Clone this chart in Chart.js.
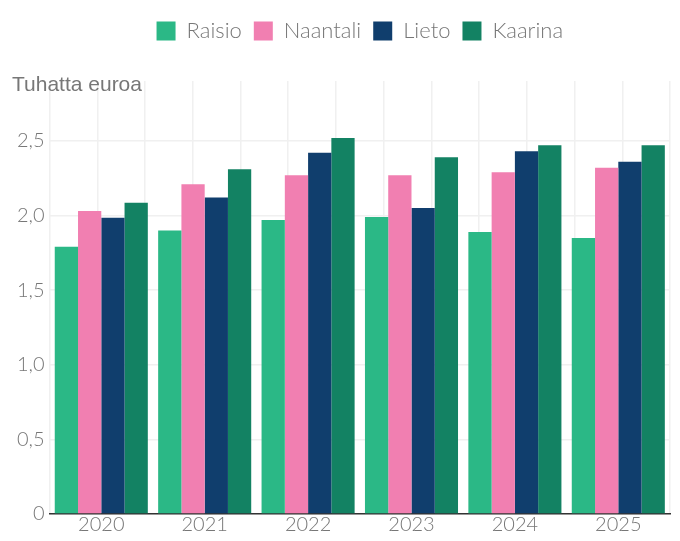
<!DOCTYPE html>
<html>
<head>
<meta charset="utf-8">
<script src="https://cdn.jsdelivr.net/npm/chart.js@4.4.0/dist/chart.umd.min.js"></script>
<style>
  html, body { margin: 0; padding: 0; background: #fff; }
  #wrap { width: 680px; height: 541px; }
</style>
</head>
<body>
<div id="wrap"><canvas id="chart"></canvas></div>
<script>
const years = ['2020', '2021', '2022', '2023', '2024', '2025'];
const raisio = [1.79, 1.90, 1.97, 1.99, 1.89, 1.85];
const naantali = [2.03, 2.21, 2.27, 2.27, 2.29, 2.32];
const lieto = [1.985, 2.12, 2.42, 2.05, 2.43, 2.36];
const kaarina = [2.085, 2.31, 2.52, 2.39, 2.47, 2.47];

const gray = '#777777';
const gridColor = '#f0f0f0';
const tickFont = { family: 'Lato', size: 20, weight: 300 };

function fmt(v) {
    return v === 0 ? '0' : v.toFixed(1).replace('.', ',');
}

const ctx = document.getElementById('chart').getContext('2d');
new Chart(ctx, {
    type: 'bar',
    data: {
        labels: years,
        datasets: [
            { label: 'Raisio', data: raisio, backgroundColor: '#2bb886' },
            { label: 'Naantali', data: naantali, backgroundColor: '#f17fb1' },
            { label: 'Lieto', data: lieto, backgroundColor: '#103e6d' },
            { label: 'Kaarina', data: kaarina, backgroundColor: '#138263' }
        ]
    },
    options: {
        responsive: true,
        maintainAspectRatio: false,
        animation: false,
        datasets: {
            bar: { categoryPercentage: 0.9, barPercentage: 1.0 }
        },
        layout: { padding: { left: 12, right: 10, top: 8, bottom: 5 } },
        plugins: {
            legend: {
                position: 'top',
                fullSize: false,
                labels: {
                    boxWidth: 19,
                    boxHeight: 19,
                    color: gray,
                    padding: 12,
                    font: { family: 'Lato', size: 22, weight: 300 }
                }
            },
            title: {
                display: true,
                text: 'Tuhatta euroa',
                align: 'start',
                weight: 500,
                color: gray,
                padding: { top: 21, bottom: -17 },
                font: { family: 'Liberation Sans', size: 21, weight: 'normal' }
            },
            tooltip: { enabled: false }
        },
        scales: {
            x: {
                grid: { display: false, drawTicks: false },
                border: { display: true, color: '#333333', width: 1.5 },
                ticks: { color: gray, font: tickFont, padding: -1 }
            },
            x2: {
                type: 'linear',
                position: 'top',
                min: -0.5,
                max: 5.5,
                grid: { color: gridColor, lineWidth: 1.5, drawTicks: false },
                border: { display: false },
                ticks: { display: false, stepSize: 0.5 }
            },
            y: {
                min: 0,
                max: 2.9,
                grid: { color: gridColor, lineWidth: 1.5, drawTicks: false },
                border: { display: false },
                afterBuildTicks: axis => {
                    axis.ticks = [0, 0.5, 1, 1.5, 2, 2.5].map(v => ({ value: v }));
                },
                ticks: {
                    color: gray,
                    padding: 5,
                    font: tickFont,
                    callback: v => fmt(v)
                }
            }
        }
    }
});
</script>
</body>
</html>
